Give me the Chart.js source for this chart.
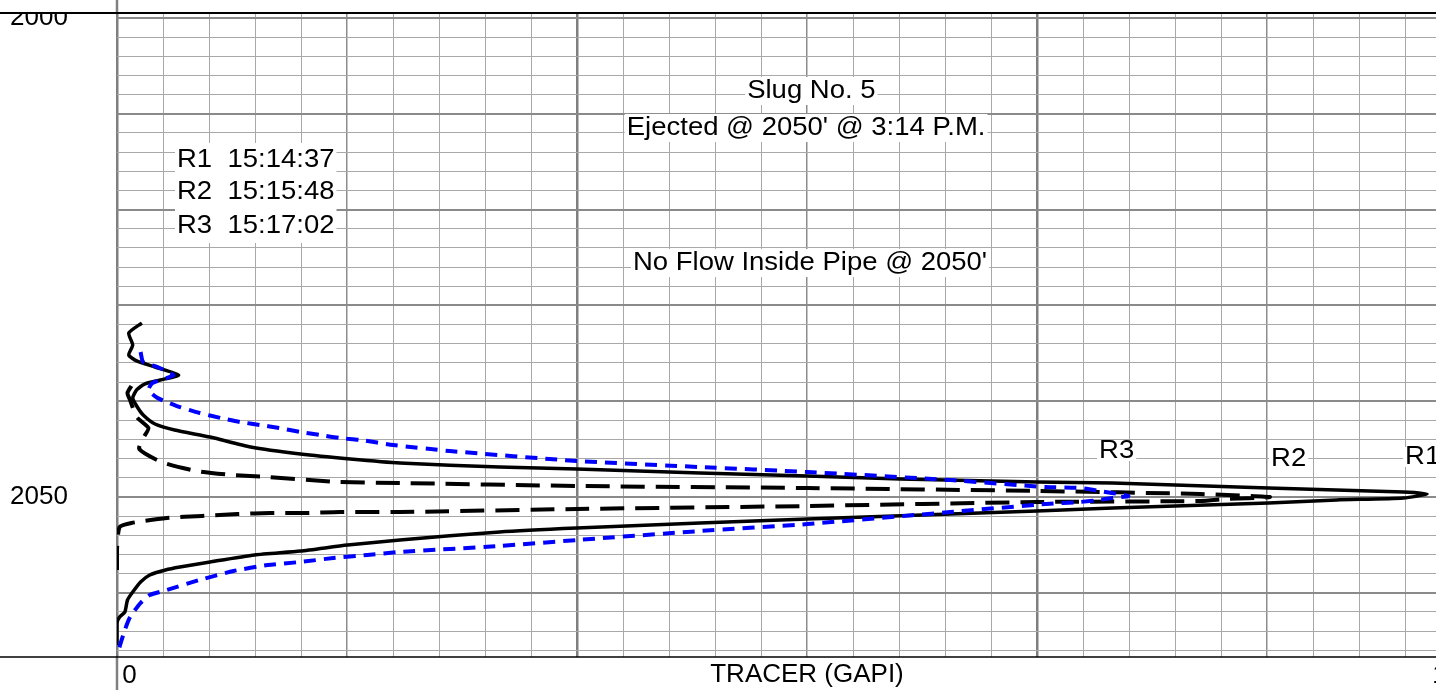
<!DOCTYPE html>
<html>
<head>
<meta charset="utf-8">
<title>Slug No. 5 - tracer log</title>
<script src="https://cdn.jsdelivr.net/npm/chart.js@4.4.1/dist/chart.umd.min.js"></script>
<style>
  html, body { margin: 0; padding: 0; background: #fff; overflow: hidden; }
  #wrap { width: 1497px; height: 690px; }
</style>
</head>
<body>
<div id="wrap"><canvas id="log" width="1497" height="690"></canvas></div>
<script>
// depth track (ft), reversed so depth increases downwards
const DEPTH_TOP = 1999.48;
const DEPTH_BOTTOM = 2066.7;
const depthLabels = [2000, 2050];

// tracer track: 30 chart divisions, "1" sits a bit short of the last one
const TRACER_DIV = 1 / 28.48;
const TRACER_MAX = 30 * TRACER_DIV;
const tracerLabels = [0, 1];

// R1 - 15:14:37 (solid)
const r1Tracer = [0.019, 0.009, 0.012, 0.009, 0.015, 0.029, 0.047, 0.033, 0.021, 0.015,
  0.012, 0.015, 0.020, 0.029, 0.044, 0.071, 0.102, 0.140, 0.178, 0.216,
  0.292, 0.351, 0.445, 0.527, 0.598, 0.702, 0.760, 0.879, 0.982, 1.000,
  0.982, 0.931, 0.879, 0.760, 0.702, 0.527, 0.445, 0.351, 0.292, 0.216,
  0.176, 0.140, 0.105, 0.071, 0.048, 0.037, 0.025, 0.018, 0.012, 0.008,
  0.006, 0.002, 0.000, 0.000];
const r1Depth = [2031.84, 2032.88, 2034.13, 2035.18, 2035.80, 2036.43, 2037.27, 2037.79, 2038.21, 2038.83,
  2039.67, 2040.50, 2041.44, 2042.38, 2043.01, 2043.74, 2044.78, 2045.51, 2046.03, 2046.45,
  2046.87, 2047.08, 2047.49, 2047.81, 2048.12, 2048.43, 2048.54, 2049.06, 2049.48, 2049.69,
  2050.10, 2050.31, 2050.63, 2051.15, 2051.46, 2052.30, 2052.71, 2053.24, 2053.65, 2054.49,
  2055.01, 2055.64, 2056.05, 2056.78, 2057.31, 2057.62, 2058.14, 2058.87, 2059.92, 2060.75,
  2062.00, 2062.53, 2063.15, 2065.45];

// R2 - 15:15:48 (long dash)
const r2Tracer = [0.011, 0.008, 0.010, 0.015, 0.024, 0.020, 0.017, 0.034, 0.061, 0.088,
  0.115, 0.168, 0.216, 0.351, 0.527, 0.702, 0.827, 0.880,
  0.847, 0.827, 0.702, 0.527, 0.351, 0.216, 0.170, 0.144, 0.117, 0.092,
  0.065, 0.038, 0.011, 0.002, 0.000, 0.000];
const r2Depth = [2038.41, 2039.14, 2039.88, 2041.65, 2042.80, 2043.84, 2044.99, 2046.35, 2047.29, 2047.70,
  2047.91, 2048.43, 2048.54, 2048.85, 2049.06, 2049.37, 2049.69, 2050.00,
  2050.21, 2050.42, 2050.52, 2050.94, 2051.25, 2051.57, 2051.57, 2051.67, 2051.67, 2051.77,
  2051.98, 2052.19, 2052.71, 2053.13, 2055.53, 2058.66];

// R3 - 15:17:02 (blue short dash)
const r3Tracer = [0.018, 0.020, 0.031, 0.043, 0.038, 0.027, 0.024, 0.031, 0.038, 0.048,
  0.063, 0.079, 0.094, 0.109, 0.124, 0.140, 0.155, 0.170, 0.186, 0.211,
  0.254, 0.351, 0.445, 0.527, 0.636, 0.709, 0.735, 0.750, 0.772,
  0.760, 0.750, 0.735, 0.709, 0.636, 0.527, 0.445, 0.351, 0.292, 0.216,
  0.191, 0.165, 0.140, 0.115, 0.089, 0.063, 0.038, 0.025, 0.018, 0.010,
  0.006, 0.000];
const r3Depth = [2034.86, 2035.91, 2036.43, 2037.27, 2037.58, 2038.10, 2038.83, 2039.67, 2040.08, 2040.61,
  2041.23, 2041.75, 2042.17, 2042.48, 2042.80, 2043.22, 2043.53, 2043.84, 2044.05, 2044.57,
  2045.20, 2046.24, 2046.87, 2047.39, 2048.23, 2048.96, 2049.06, 2049.37, 2049.90,
  2050.10, 2050.31, 2050.52, 2050.73, 2051.57, 2052.82, 2053.55, 2054.49, 2055.11, 2055.74,
  2056.05, 2056.37, 2056.78, 2057.10, 2057.72, 2058.66, 2059.71, 2060.23, 2061.06, 2062.53,
  2063.88, 2066.49];

// text placed on the log (anchor in tracer/depth units)
const notes = [
  { text: 'Slug No. 5', x: 0.530, y: 2007.62, align: 'center', half: 14 },
  { text: "Ejected @ 2050' @ 3:14 P.M.", x: 0.526, y: 2011.48, align: 'center', half: 14 },
  { text: 'R1  15:14:37', x: 0.0458, y: 2014.82, align: 'left', half: 17 },
  { text: 'R2  15:15:48', x: 0.0458, y: 2018.16, align: 'left', half: 17 },
  { text: 'R3  15:17:02', x: 0.0458, y: 2021.71, align: 'left', half: 17 },
  { text: "No Flow Inside Pipe @ 2050'", x: 0.529, y: 2025.58, align: 'center', half: 14 },
  { text: 'R3', x: 0.7496, y: 2045.20, align: 'left', half: 10 },
  { text: 'R2', x: 0.8809, y: 2046.03, align: 'left', half: 10 },
  { text: 'R1', x: 0.9832, y: 2045.82, align: 'left', half: 10 }
];

const FONT = '"Liberation Sans", Arial, sans-serif';
const TEXT_STRETCH = 1.1;

Chart.defaults.font.family = FONT;
Chart.defaults.color = '#000';

// grid positions
const depthGrid = [];
for (let d = 2000; d <= 2066; d += 2) depthGrid.push(d);
const tracerGrid = [];
for (let k = 0; k <= 30; k++) tracerGrid.push(k * TRACER_DIV);
tracerGrid.push(1);
tracerGrid.sort((a, b) => a - b);

function onGrid(v) {
  const k = v / TRACER_DIV;
  return Math.abs(k - Math.round(k)) < 1e-6;
}

function points(xs, ys) {
  return xs.map((x, i) => ({ x: x, y: ys[i] }));
}

const logFrame = {
  id: 'logFrame',
  afterDraw(chart) {
    const ctx = chart.ctx;
    const area = chart.chartArea;
    const x0 = chart.scales.x.getPixelForValue(0);
    ctx.save();

    // header strip above the track
    ctx.fillStyle = '#fff';
    ctx.fillRect(0, 0, chart.width, area.top - 1);

    // left track edge runs through header and footer
    ctx.strokeStyle = '#808080';
    ctx.lineWidth = 2.5;
    ctx.beginPath();
    ctx.moveTo(x0, 0); ctx.lineTo(x0, area.top);
    ctx.moveTo(x0, area.bottom); ctx.lineTo(x0, chart.height);
    ctx.stroke();

    // top and bottom black rules across the whole sheet
    ctx.strokeStyle = '#000';
    ctx.lineWidth = 2;
    ctx.beginPath();
    ctx.moveTo(0, area.top); ctx.lineTo(chart.width, area.top);
    ctx.stroke();
    ctx.lineWidth = 1.5;
    ctx.beginPath();
    ctx.moveTo(0, area.bottom); ctx.lineTo(chart.width, area.bottom);
    ctx.stroke();

    // notes
    ctx.font = '25px ' + FONT;
    ctx.textBaseline = 'middle';
    ctx.textAlign = 'left';
    notes.forEach(n => {
      const px = chart.scales.x.getPixelForValue(n.x);
      const py = chart.scales.y.getPixelForValue(n.y);
      const w = ctx.measureText(n.text).width * TEXT_STRETCH;
      const left = n.align === 'center' ? px - w / 2 : px;
      ctx.fillStyle = '#fff';
      ctx.fillRect(left - 2, py - n.half, w + 4, n.half * 2);
      ctx.save();
      ctx.translate(left, py);
      ctx.scale(TEXT_STRETCH, 1);
      ctx.fillStyle = '#000';
      ctx.fillText(n.text, 0, 0);
      ctx.restore();
    });
    ctx.restore();
  }
};

new Chart(document.getElementById('log'), {
  type: 'scatter',
  data: {
    datasets: [
      {
        label: 'R1  15:14:37',
        data: points(r1Tracer, r1Depth),
        showLine: true,
        tension: 0.2,
        borderColor: '#000',
        borderWidth: 3.5,
        borderJoinStyle: 'round',
        pointRadius: 0,
        order: 1
      },
      {
        label: 'R2  15:15:48',
        data: points(r2Tracer, r2Depth),
        showLine: true,
        tension: 0.2,
        borderColor: '#000',
        borderWidth: 4,
        borderDash: [24, 11],
        pointRadius: 0,
        order: 2
      },
      {
        label: 'R3  15:17:02',
        data: points(r3Tracer, r3Depth),
        showLine: true,
        tension: 0.2,
        borderColor: '#0000ff',
        borderWidth: 4,
        borderDash: [12, 8],
        pointRadius: 0,
        order: 0
      }
    ]
  },
  options: {
    responsive: false,
    animation: false,
    layout: { padding: { top: 13, right: 0, bottom: 0, left: 10 } },
    plugins: {
      legend: { display: false },
      tooltip: { enabled: false }
    },
    scales: {
      x: {
        type: 'linear',
        min: 0,
        max: TRACER_MAX,
        afterBuildTicks: axis => { axis.ticks = tracerGrid.map(v => ({ value: v })); },
        afterFit: axis => { axis.height = 33; },
        border: { display: false },
        grid: {
          drawTicks: false,
          color: c => {
            if (!c.tick || !onGrid(c.tick.value)) return 'rgba(0,0,0,0)';
            const k = Math.round(c.tick.value / TRACER_DIV);
            if (k % 10 === 0) return '#7f7f7f';
            if (k % 5 === 0) return '#8c8c8c';
            return '#a8a8a8';
          },
          lineWidth: c => {
            if (!c.tick || !onGrid(c.tick.value)) return 0;
            const k = Math.round(c.tick.value / TRACER_DIV);
            if (k % 10 === 0) return 2.5;
            if (k % 5 === 0) return 1.5;
            return 1;
          }
        },
        ticks: {
          autoSkip: false,
          maxRotation: 0,
          align: 'start',
          padding: 0,
          font: { size: 26, lineHeight: 1.46 },
          color: '#000',
          callback: v => {
            const hit = tracerLabels.find(t => Math.abs(t - v) < 1e-9);
            return hit === undefined ? '' : '\u2009' + hit;
          }
        },
        title: {
          display: true,
          text: 'TRACER (GAPI)',
          font: { size: 26 },
          color: '#000',
          padding: 0
        }
      },
      y: {
        type: 'linear',
        reverse: true,
        min: DEPTH_TOP,
        max: DEPTH_BOTTOM,
        afterBuildTicks: axis => { axis.ticks = depthGrid.map(v => ({ value: v })); },
        afterFit: axis => { axis.width = 107; },
        border: { display: false },
        grid: {
          drawTicks: false,
          color: c => (c.tick && (c.tick.value - 2000) % 10 === 0) ? '#8a8a8a' : '#a8a8a8',
          lineWidth: c => (c.tick && (c.tick.value - 2000) % 10 === 0) ? 2 : 1
        },
        ticks: {
          autoSkip: false,
          crossAlign: 'far',
          padding: 0,
          font: { size: 26, lineHeight: 0.05 },
          color: '#000',
          callback: v => depthLabels.includes(v) ? String(v) : ''
        }
      }
    }
  },
  plugins: [logFrame]
});
</script>
</body>
</html>
